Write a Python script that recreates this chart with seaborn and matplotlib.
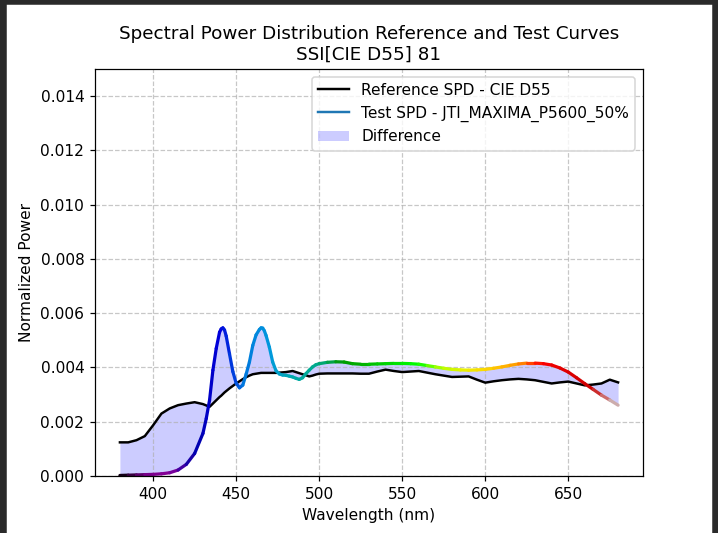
import numpy as np
import matplotlib
matplotlib.use("Agg")
import matplotlib.pyplot as plt
import seaborn as sns
from matplotlib.collections import LineCollection
from matplotlib.lines import Line2D
from matplotlib.patches import Patch, Rectangle

# ---------------- data ----------------
wavelength = [380, 385, 390, 395, 400, 405, 410, 415, 420, 425, 430,
              432, 434, 436, 438, 440, 441, 442, 443, 444, 446, 448, 450, 452, 454, 456, 458,
              460, 462, 464, 465, 466, 467, 468, 470, 472, 474, 476, 478, 480, 482, 484, 486,
              488, 490, 492, 494, 496, 498, 500,
              505, 510, 515, 520, 525, 530, 535, 540, 545, 550, 555, 560, 565, 570,
              575, 580, 585, 590, 595, 600, 605, 610, 615, 620, 625, 630, 635, 640,
              645, 650, 655, 660, 665, 670, 675, 680]

reference_spd = [0.00124, 0.00124, 0.00132, 0.00147, 0.00187, 0.00230, 0.00249, 0.00261, 0.00267, 0.00272, 0.00265,
                 0.00260, 0.00255, 0.00267, 0.00279, 0.00291, 0.00296, 0.00302, 0.00308, 0.00313, 0.00323, 0.00332, 0.00341, 0.00349, 0.00357, 0.00364, 0.00370,
                 0.00375, 0.00377, 0.00379, 0.00380, 0.00380, 0.00380, 0.00380, 0.00380, 0.00380, 0.00380, 0.00381, 0.00382, 0.00383, 0.00385, 0.00387, 0.00383,
                 0.00379, 0.00375, 0.00371, 0.00367, 0.00370, 0.00374, 0.00377,
                 0.00378, 0.00378, 0.00378, 0.00378, 0.00377, 0.00377, 0.00385, 0.00392, 0.00387, 0.00383, 0.00385, 0.00387, 0.00381, 0.00375,
                 0.00370, 0.00365, 0.00366, 0.00367, 0.00355, 0.00344, 0.00349, 0.00353, 0.00356, 0.00358, 0.00356, 0.00353, 0.00347, 0.00341,
                 0.00345, 0.00348, 0.00341, 0.00334, 0.00337, 0.00341, 0.00355, 0.00345]

test_spd = [0.00002, 0.00003, 0.00004, 0.00005, 0.00006, 0.00008, 0.00012, 0.00022, 0.00043, 0.00083, 0.00157,
            0.00212, 0.00280, 0.00390, 0.00470, 0.00530, 0.00542, 0.00546, 0.00538, 0.00516, 0.00450, 0.00385, 0.00342, 0.00325, 0.00335, 0.00375, 0.00420,
            0.00481, 0.00520, 0.00540, 0.00546, 0.00545, 0.00535, 0.00518, 0.00475, 0.00420, 0.00388, 0.00376, 0.00372, 0.00371, 0.00368, 0.00365, 0.00360,
            0.00356, 0.00362, 0.00377, 0.00390, 0.00402, 0.00410, 0.00414,
            0.00419, 0.00421, 0.00420, 0.00414, 0.00412, 0.00412, 0.00413, 0.00414, 0.00415, 0.00415, 0.00414, 0.00412, 0.00407, 0.00402,
            0.00397, 0.00393, 0.00391, 0.00390, 0.00391, 0.00393, 0.00397, 0.00402, 0.00408, 0.00413, 0.00416, 0.00416, 0.00414, 0.00409,
            0.00398, 0.00383, 0.00362, 0.00340, 0.00319, 0.00298, 0.00280, 0.00261]

title_text = "Spectral Power Distribution Reference and Test Curves\nSSI[CIE D55] 81"
ref_label = "Reference SPD - CIE D55"
test_label = "Test SPD - JTI_MAXIMA_P5600_50%"
diff_label = "Difference"

# ---------------- figure ----------------
DPI = 110.5
W, H = 718, 533
fig = plt.figure(figsize=(W / DPI, H / DPI), dpi=DPI)
ax = fig.add_axes([95 / W, (H - 476) / H, (643 - 95) / W, (476 - 69) / H])

wl = np.asarray(wavelength, dtype=float)
ref = np.asarray(reference_spd, dtype=float)
tst = np.asarray(test_spd, dtype=float)

ax.fill_between(wl, ref, tst, color="blue", alpha=0.2, linewidth=0)

sns.lineplot(x=wl, y=ref, color="black", linewidth=1.6, ax=ax, sort=False,
             estimator=None, legend=False)

# test SPD coloured by wavelength
pts = np.column_stack([wl, tst]).reshape(-1, 1, 2)
segs = np.concatenate([pts[:-1], pts[1:]], axis=1)
mids = 0.5 * (wl[:-1] + wl[1:])
norm = plt.Normalize(wl.min(), wl.max())
lc = LineCollection(segs, colors=plt.cm.nipy_spectral(norm(mids)), linewidth=2.1,
                    capstyle="round", joinstyle="round")
ax.add_collection(lc)

ax.set_xlim(365, 695)
ax.set_ylim(0, 0.015)
ax.grid(True, linestyle="--", alpha=0.7)
ax.set_xlabel("Wavelength (nm)")
ax.set_ylabel("Normalized Power")
ax.set_title(title_text)

handles = [Line2D([], [], color="black", linewidth=1.6),
           Line2D([], [], color="tab:blue", linewidth=1.6),
           Patch(facecolor="blue", alpha=0.2)]
ax.legend(handles, [ref_label, test_label, diff_label], loc="upper right")

# dark screenshot border
dark = "#2a2a2a"
fig.patches.append(Rectangle((0, 0), 6 / W, 1, transform=fig.transFigure, color=dark, zorder=10))
fig.patches.append(Rectangle((0, 1 - 4 / H), 1, 4 / H, transform=fig.transFigure, color=dark, zorder=10))
fig.patches.append(Rectangle((1 - 5 / W, 0), 5 / W, 1, transform=fig.transFigure, color=dark, zorder=10))

fig.savefig("out.png", dpi=DPI)
